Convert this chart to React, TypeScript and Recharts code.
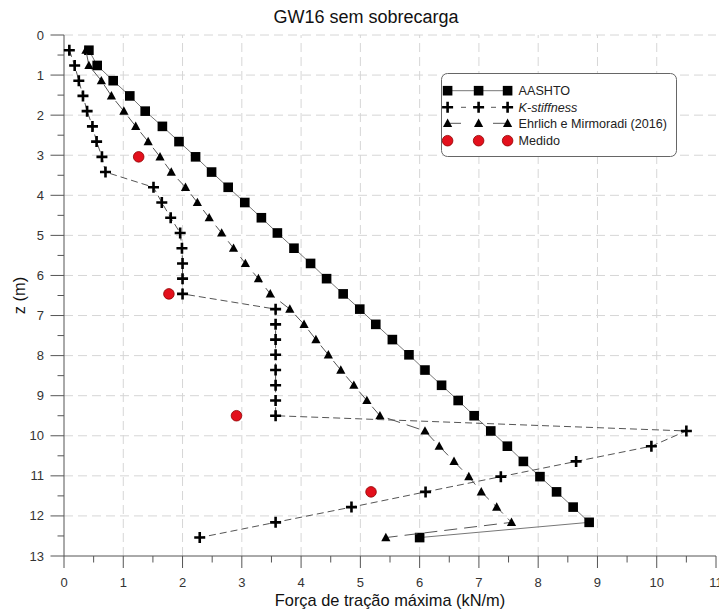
import { ScatterChart, Scatter, XAxis, YAxis, ReferenceLine, Legend } from 'recharts'

// depth of each reinforcement layer (m)
const depths = [
  0.38, 0.76, 1.14, 1.52, 1.9, 2.28, 2.66, 3.04, 3.42, 3.8, 4.18, 4.56, 4.94, 5.32, 5.7, 6.08, 6.46,
  6.84, 7.22, 7.6, 7.98, 8.36, 8.74, 9.12, 9.5, 9.88, 10.26, 10.64, 11.02, 11.4, 11.78, 12.16, 12.54,
]

const aashto = [
  0.42, 0.56, 0.83, 1.11, 1.37, 1.66, 1.94, 2.22, 2.49, 2.77, 3.05, 3.33, 3.6, 3.88, 4.16, 4.43, 4.71,
  4.99, 5.26, 5.54, 5.82, 6.09, 6.37, 6.65, 6.92, 7.2, 7.48, 7.75, 8.03, 8.31, 8.59, 8.86, 6.0,
]

const kStiffness = [
  0.09, 0.18, 0.25, 0.32, 0.39, 0.48, 0.55, 0.64, 0.7, 1.51, 1.65, 1.8, 1.96, 1.99, 2.0, 2.0, 2.0,
  3.57, 3.57, 3.57, 3.57, 3.57, 3.57, 3.57, 3.57, 10.5, 9.91, 8.64, 7.37, 6.1, 4.85, 3.57, 2.29,
]

const ehrlich = [
  0.37, 0.42, 0.63, 0.8, 1.01, 1.21, 1.42, 1.62, 1.81, 2.05, 2.25, 2.45, 2.66, 2.86, 3.06, 3.28, 3.48,
  3.81, 4.05, 4.25, 4.46, 4.67, 4.89, 5.11, 5.33, 6.09, 6.33, 6.58, 6.83, 7.04, 7.3, 7.55, 5.43,
]

const medidoDepths = [3.04, 6.46, 9.5, 11.4]
const medido = [1.26, 1.77, 2.91, 5.18]

const xTicks = [0, 0.5, 1, 1.5, 2, 2.5, 3, 3.5, 4, 4.5, 5, 5.5, 6, 6.5, 7, 7.5, 8, 8.5, 9, 9.5, 10, 10.5, 11]
const zTicks = [0, 0.5, 1, 1.5, 2, 2.5, 3, 3.5, 4, 4.5, 5, 5.5, 6, 6.5, 7, 7.5, 8, 8.5, 9, 9.5, 10, 10.5, 11, 11.5, 12, 12.5, 13]
const xGrid = [1, 2, 3, 4, 5, 6, 7, 8, 9, 10]
const zGrid = [0, 1, 2, 3, 4, 5, 6, 7, 8, 9, 10, 11, 12]

const FONT = '"Liberation Sans", Arial, sans-serif'

const toPoints = (xs: number[], zs: number[]) => xs.map((x, i) => ({ x, z: zs[i] }))

const Square = ({ cx, cy }: any) => <rect x={cx - 4.8} y={cy - 4.8} width={9.6} height={9.6} fill="#000" />
const Cross = ({ cx, cy }: any) => (
  <path d={`M${cx - 5.5},${cy}H${cx + 5.5}M${cx},${cy - 5.5}V${cy + 5.5}`} stroke="#000" strokeWidth={2.6} />
)
const Triangle = ({ cx, cy }: any) => (
  <path d={`M${cx},${cy - 4.8}L${cx + 4.6},${cy + 3.6}L${cx - 4.6},${cy + 3.6}Z`} fill="#000" />
)
const Dot = ({ cx, cy }: any) => <circle cx={cx} cy={cy} r={5.3} fill="#e3101c" stroke="#8f0000" strokeWidth={0.8} />

const YTick = ({ x, y, payload }: any) => {
  const major = Number.isInteger(payload.value)
  return (
    <g>
      <line x1={x} x2={x - (major ? 13.5 : 6.5)} y1={y} y2={y} stroke="#555" />
      {major && (
        <text x={x - 20} y={y} dy="0.35em" textAnchor="end" fontSize={13} fontFamily={FONT} fill="#333">
          {payload.value}
        </text>
      )}
    </g>
  )
}

const XTick = ({ x, y, payload }: any) => {
  const major = Number.isInteger(payload.value)
  return (
    <g>
      <line x1={x} x2={x} y1={y} y2={y + (major ? 12 : 6.5)} stroke="#555" />
      {major && (
        <text x={x} y={y + 26} dy="0.35em" textAnchor="middle" fontSize={13} fontFamily={FONT} fill="#333">
          {payload.value}
        </text>
      )}
    </g>
  )
}

const legendRows = [
  { label: 'AASHTO', italic: false },
  { label: 'K-stiffness', italic: true },
  { label: 'Ehrlich e Mirmoradi (2016)', italic: false },
  { label: 'Medido', italic: false },
]

const LegendBox = () => {
  const rowY = [17.7, 34.3, 50.3, 67.7]
  const sx = [6.6, 37.6, 66.6]
  const markers = [Square, Cross, Triangle, Dot]
  return (
    <svg width={237} height={85} style={{ display: 'block' }}>
      <rect x={0.5} y={0.5} width={235} height={83} rx={6} fill="#fff" stroke="#666" />
      <line x1={sx[0]} x2={sx[2]} y1={rowY[0]} y2={rowY[0]} stroke="#777" />
      <line x1={20} x2={25} y1={rowY[1]} y2={rowY[1]} stroke="#555" />
      <line x1={50} x2={55} y1={rowY[1]} y2={rowY[1]} stroke="#555" />
      <line x1={sx[0]} x2={20} y1={rowY[2]} y2={rowY[2]} stroke="#555" />
      <line x1={52} x2={sx[2]} y1={rowY[2]} y2={rowY[2]} stroke="#555" />
      {markers.map((M, r) => sx.map((cx, k) => <M key={`${r}-${k}`} cx={cx} cy={rowY[r]} />))}
      {legendRows.map((row, r) => (
        <text
          key={row.label}
          x={77.6}
          y={rowY[r]}
          dy="0.35em"
          fontSize={12.6}
          fontFamily={FONT}
          fontStyle={row.italic ? 'italic' : 'normal'}
          fill="#222"
        >
          {row.label}
        </text>
      ))}
    </svg>
  )
}

export default function App() {
  return (
    <div style={{ position: 'absolute', left: 0, top: 0, width: 719, height: 610, background: '#fff' }}>
      <svg width={719} height={40} style={{ position: 'absolute', left: 0, top: 0 }}>
        <text x={366} y={23.3} textAnchor="middle" fontSize={18} fontFamily={FONT} fill="#111">
          GW16 sem sobrecarga
        </text>
      </svg>
      <ScatterChart width={719} height={610} margin={{ top: 35, right: 3, bottom: 0, left: 0 }}>
        {xGrid.map((v) => (
          <ReferenceLine key={`gx${v}`} x={v} stroke="#d6d6d6" strokeDasharray="9 5" />
        ))}
        {zGrid.map((v) => (
          <ReferenceLine key={`gz${v}`} y={v} stroke="#d6d6d6" strokeDasharray="9 5" />
        ))}
        <XAxis
          type="number"
          dataKey="x"
          domain={[0, 11]}
          ticks={xTicks}
          interval={0}
          height={54}
          tickSize={0}
          tickMargin={0}
          tickLine={false}
          tick={<XTick />}
          axisLine={{ stroke: '#555' }}
          label={{
            value: 'Força de tração máxima (kN/m)',
            position: 'insideBottom',
            offset: 4,
            style: { fontSize: 16.4, fontFamily: FONT, fill: '#111' },
          }}
        />
        <YAxis
          type="number"
          dataKey="z"
          domain={[0, 13]}
          reversed
          ticks={zTicks}
          interval={0}
          width={64}
          tickSize={0}
          tickMargin={0}
          tickLine={false}
          tick={<YTick />}
          axisLine={{ stroke: '#555' }}
          label={{
            value: 'z (m)',
            angle: -90,
            position: 'insideLeft',
            offset: 19,
            style: { textAnchor: 'middle', fontSize: 16.4, fontFamily: FONT, fill: '#111' },
          }}
        />
        <Legend
          layout="vertical"
          align="center"
          verticalAlign="middle"
          content={() => <LegendBox />}
          wrapperStyle={{ left: 441, top: 73, width: 237, height: 85 }}
        />
        <Scatter
          name="AASHTO"
          data={toPoints(aashto, depths)}
          line={{ stroke: '#777', strokeWidth: 1 }}
          shape={<Square />}
          isAnimationActive={false}
        />
        <Scatter
          name="Ehrlich e Mirmoradi (2016)"
          data={toPoints(ehrlich, depths)}
          line={{ stroke: '#555', strokeWidth: 1, strokeDasharray: '13 7' }}
          shape={<Triangle />}
          isAnimationActive={false}
        />
        <Scatter
          name="K-stiffness"
          data={toPoints(kStiffness, depths)}
          line={{ stroke: '#555', strokeWidth: 1, strokeDasharray: '7 4' }}
          shape={<Cross />}
          isAnimationActive={false}
        />
        <Scatter
          name="Medido"
          data={toPoints(medido, medidoDepths)}
          shape={<Dot />}
          isAnimationActive={false}
        />
      </ScatterChart>
    </div>
  )
}
